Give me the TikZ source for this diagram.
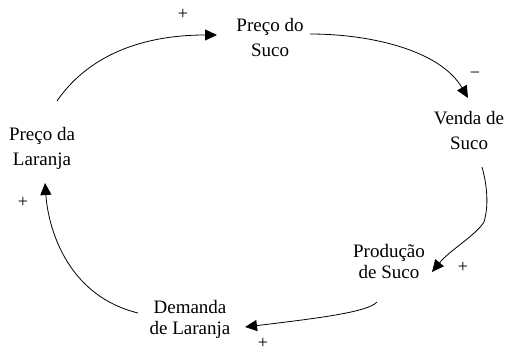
\documentclass[tikz,border=0pt]{standalone}
\usepackage{fontspec}
\setmainfont{Liberation Serif}
\newfontfamily\diagserif{Liberation Serif}
\usetikzlibrary{arrows.meta}
\tikzset{
  concept/.style={inner sep=0pt, outer sep=0pt, align=center, anchor=north, font=\diagserif\fontsize{19}{25}\selectfont},
  conceptnarrow/.style={concept, font=\diagserif\fontsize{19}{21}\selectfont},
  sign/.style={inner sep=0pt, font=\diagserif\fontsize{18}{18}\selectfont},
  link/.style={draw=black, line width=0.8pt, -{Triangle[length=12pt,width=11pt]}}
}
\begin{document}
\begin{tikzpicture}[x=1pt,y=-1pt]
\useasboundingbox (0,0) rectangle (505,352);
\node[concept] (ps) at (270,18) {Preço do\\Suco};
\node[concept] (vs) at (469,111.5) {Venda de\\Suco};
\node[concept] (pl) at (42,127) {Preço da\\Laranja};
\node[conceptnarrow] (pr) at (389,244.5) {Produção\\de Suco};
\node[conceptnarrow] (dl) at (190,300) {Demanda\\de Laranja};

\coordinate (a1) at (57,101);  \coordinate (b1) at (217,35);
\coordinate (a2) at (310,34);  \coordinate (b2) at (468,98);
\coordinate (a3) at (482,167); \coordinate (m3) at (484,222); \coordinate (b3) at (432,272);
\coordinate (a4) at (377,302); \coordinate (b4) at (245,327);
\coordinate (a5) at (138,313); \coordinate (b5) at (45,183);

\draw[link] (a1) .. controls (85,60) and (135,35) .. (b1);
\draw[link] (a2) .. controls (370,34) and (440,50) .. (b2);
\draw[link] (a3) .. controls (487,185) and (489,205) .. (m3) .. controls (475,236) and (450,250) .. (b3);
\draw[link] (a4) .. controls (368,312) and (320,318) .. (b4);
\draw[link] (a5) .. controls (65,295) and (48,225) .. (b5);

\node[sign] (s1) at (183,14) {+};
\node[sign] (s2) at (475,75) {−};
\node[sign] (s3) at (463,267) {+};
\node[sign] (s4) at (263,343) {+};
\node[sign] (s5) at (23,202) {+};
\end{tikzpicture}
\end{document}
